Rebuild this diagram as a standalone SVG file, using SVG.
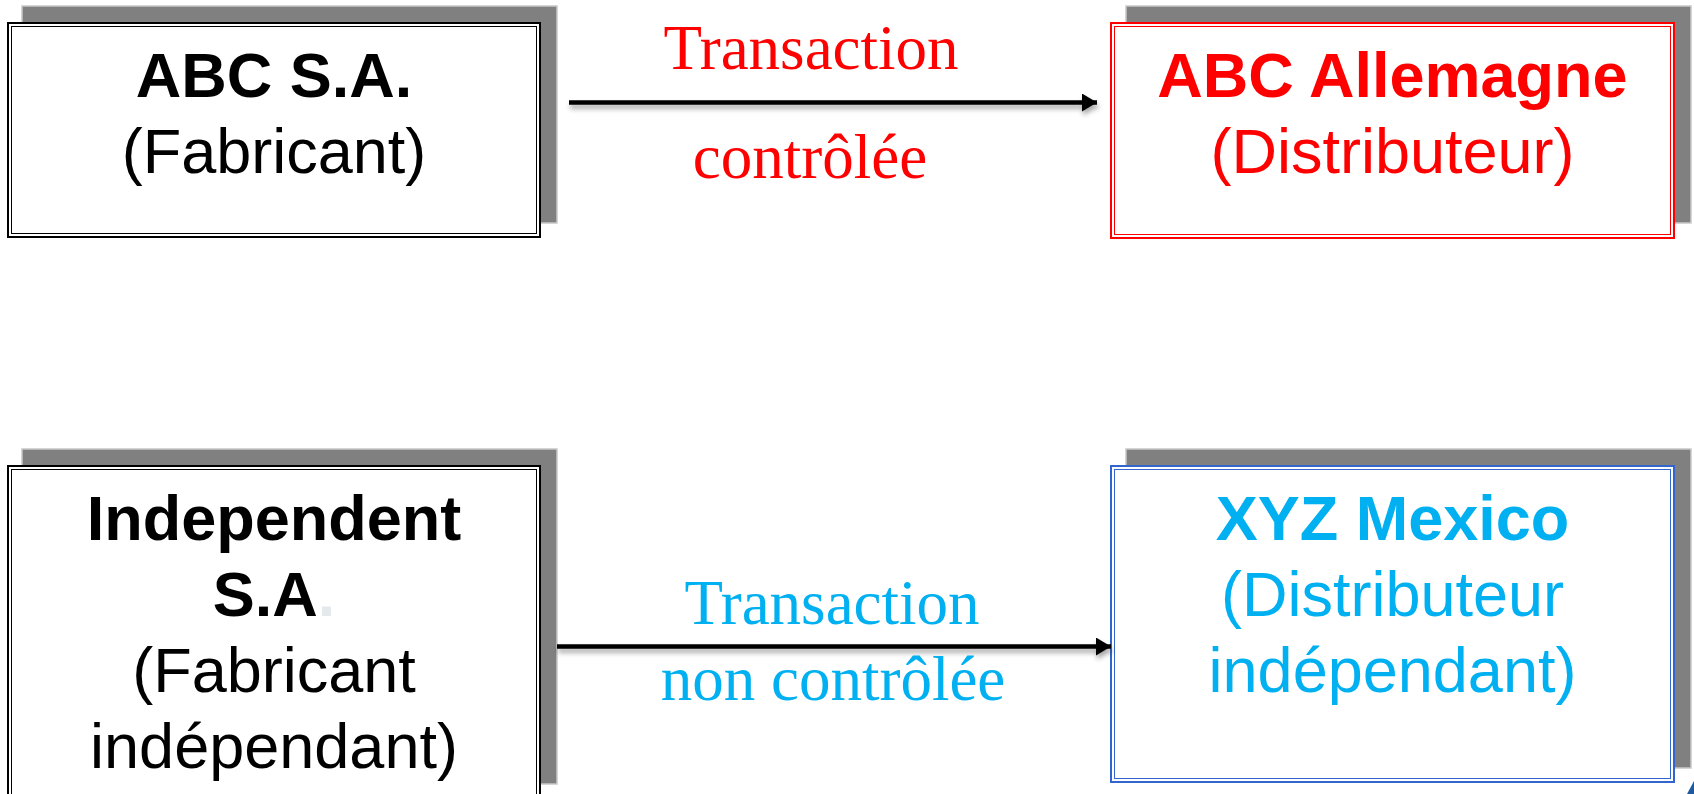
<svg xmlns="http://www.w3.org/2000/svg" width="1694" height="794" viewBox="0 0 1694 794">
  <style>
    .shadow { fill: #808080; stroke: #c8c8c8; stroke-width: 1.5; }
    .box { fill: #ffffff; }
    .outer { fill: none; stroke-width: 2; }
    .inner { fill: none; stroke-width: 1; }
    .blk { stroke: #000000; }
    .red { stroke: #ff0000; }
    .blu { stroke: #3366cc; }
    .sans { font-family: "Liberation Sans", Arial, sans-serif; font-size: 63px; text-anchor: middle; }
    .serif { font-family: "Liberation Serif", "Times New Roman", serif; font-size: 63px; text-anchor: middle; }
    .b { font-weight: bold; }
    .tred { fill: #ff0000; }
    .tblue { fill: #00b0f0; }
    .tblack { fill: #000000; }
    .conn { stroke: #000000; stroke-width: 4.5; fill: none; }
  </style>
  <defs>
    <marker id="arrow" viewBox="0 0 15 18" refX="15" refY="9" markerWidth="15" markerHeight="18" markerUnits="userSpaceOnUse" orient="auto">
      <path d="M0,0 L15,9 L0,18 Z" fill="#000000"/>
    </marker>
    <filter id="ds" filterUnits="userSpaceOnUse" x="0" y="0" width="1694" height="794">
      <feDropShadow dx="1" dy="4" stdDeviation="2.5" flood-color="#000000" flood-opacity="0.35"/>
    </filter>
  </defs>
  <rect width="1694" height="794" fill="#ffffff"/>

  <g id="node-abc-sa">
    <rect class="shadow" x="22" y="6" width="535" height="217"/>
    <rect class="box" x="7" y="22" width="534" height="216"/>
    <rect class="outer blk" x="8" y="23" width="532" height="214"/>
    <rect class="inner blk" x="11.5" y="26.5" width="525" height="207"/>
    <text class="sans b tblack" x="274" y="97">ABC S.A.</text>
    <text class="sans tblack" x="274" y="173">(Fabricant)</text>
  </g>

  <g id="node-abc-allemagne">
    <rect class="shadow" x="1126" y="6" width="565" height="217"/>
    <rect class="box" x="1110" y="22" width="565" height="217"/>
    <rect class="outer red" x="1111" y="23" width="563" height="215"/>
    <rect class="inner red" x="1114.5" y="26.5" width="556" height="208"/>
    <text class="sans b tred" x="1392.5" y="97">ABC Allemagne</text>
    <text class="sans tred" x="1392.5" y="173">(Distributeur)</text>
  </g>

  <g id="node-independent">
    <rect class="shadow" x="22" y="449" width="535" height="335"/>
    <rect class="box" x="7" y="465" width="534" height="345"/>
    <rect class="outer blk" x="8" y="466" width="532" height="343"/>
    <rect class="inner blk" x="11.5" y="469.5" width="525" height="336"/>
    <text class="sans b tblack" x="274" y="540">Independent</text>
    <text class="sans b tblack" x="274" y="616">S.A<tspan fill="#e4eaec">.</tspan></text>
    <text class="sans tblack" x="274" y="692">(Fabricant</text>
    <text class="sans tblack" x="274" y="768">indépendant)</text>
  </g>

  <g id="node-xyz-mexico">
    <rect class="shadow" x="1126" y="449" width="565" height="319"/>
    <rect class="box" x="1110" y="465" width="565" height="318"/>
    <rect class="outer blu" x="1111" y="466" width="563" height="316"/>
    <rect class="inner blu" x="1114.5" y="469.5" width="556" height="309"/>
    <text class="sans b tblue" x="1392.5" y="540">XYZ Mexico</text>
    <text class="sans tblue" x="1392.5" y="616">(Distributeur</text>
    <text class="sans tblue" x="1392.5" y="692">indépendant)</text>
  </g>

  <g id="connectors">
    <g id="edge-controlled">
      <line class="conn" x1="569" y1="102.5" x2="1097" y2="102.5" marker-end="url(#arrow)" filter="url(#ds)"/>
      <text class="serif tred" x="811" y="69">Transaction</text>
      <text class="serif tred" x="810" y="178">contrôlée</text>
    </g>
    <g id="edge-uncontrolled">
      <line class="conn" x1="557" y1="646.5" x2="1111" y2="646.5" marker-end="url(#arrow)" filter="url(#ds)"/>
      <text class="serif tblue" x="832" y="624">Transaction</text>
      <text class="serif tblue" x="833" y="700">non contrôlée</text>
    </g>
  </g>

  <polygon points="1687,794 1694,781 1694,794" fill="#1f5a9e"/>
</svg>
